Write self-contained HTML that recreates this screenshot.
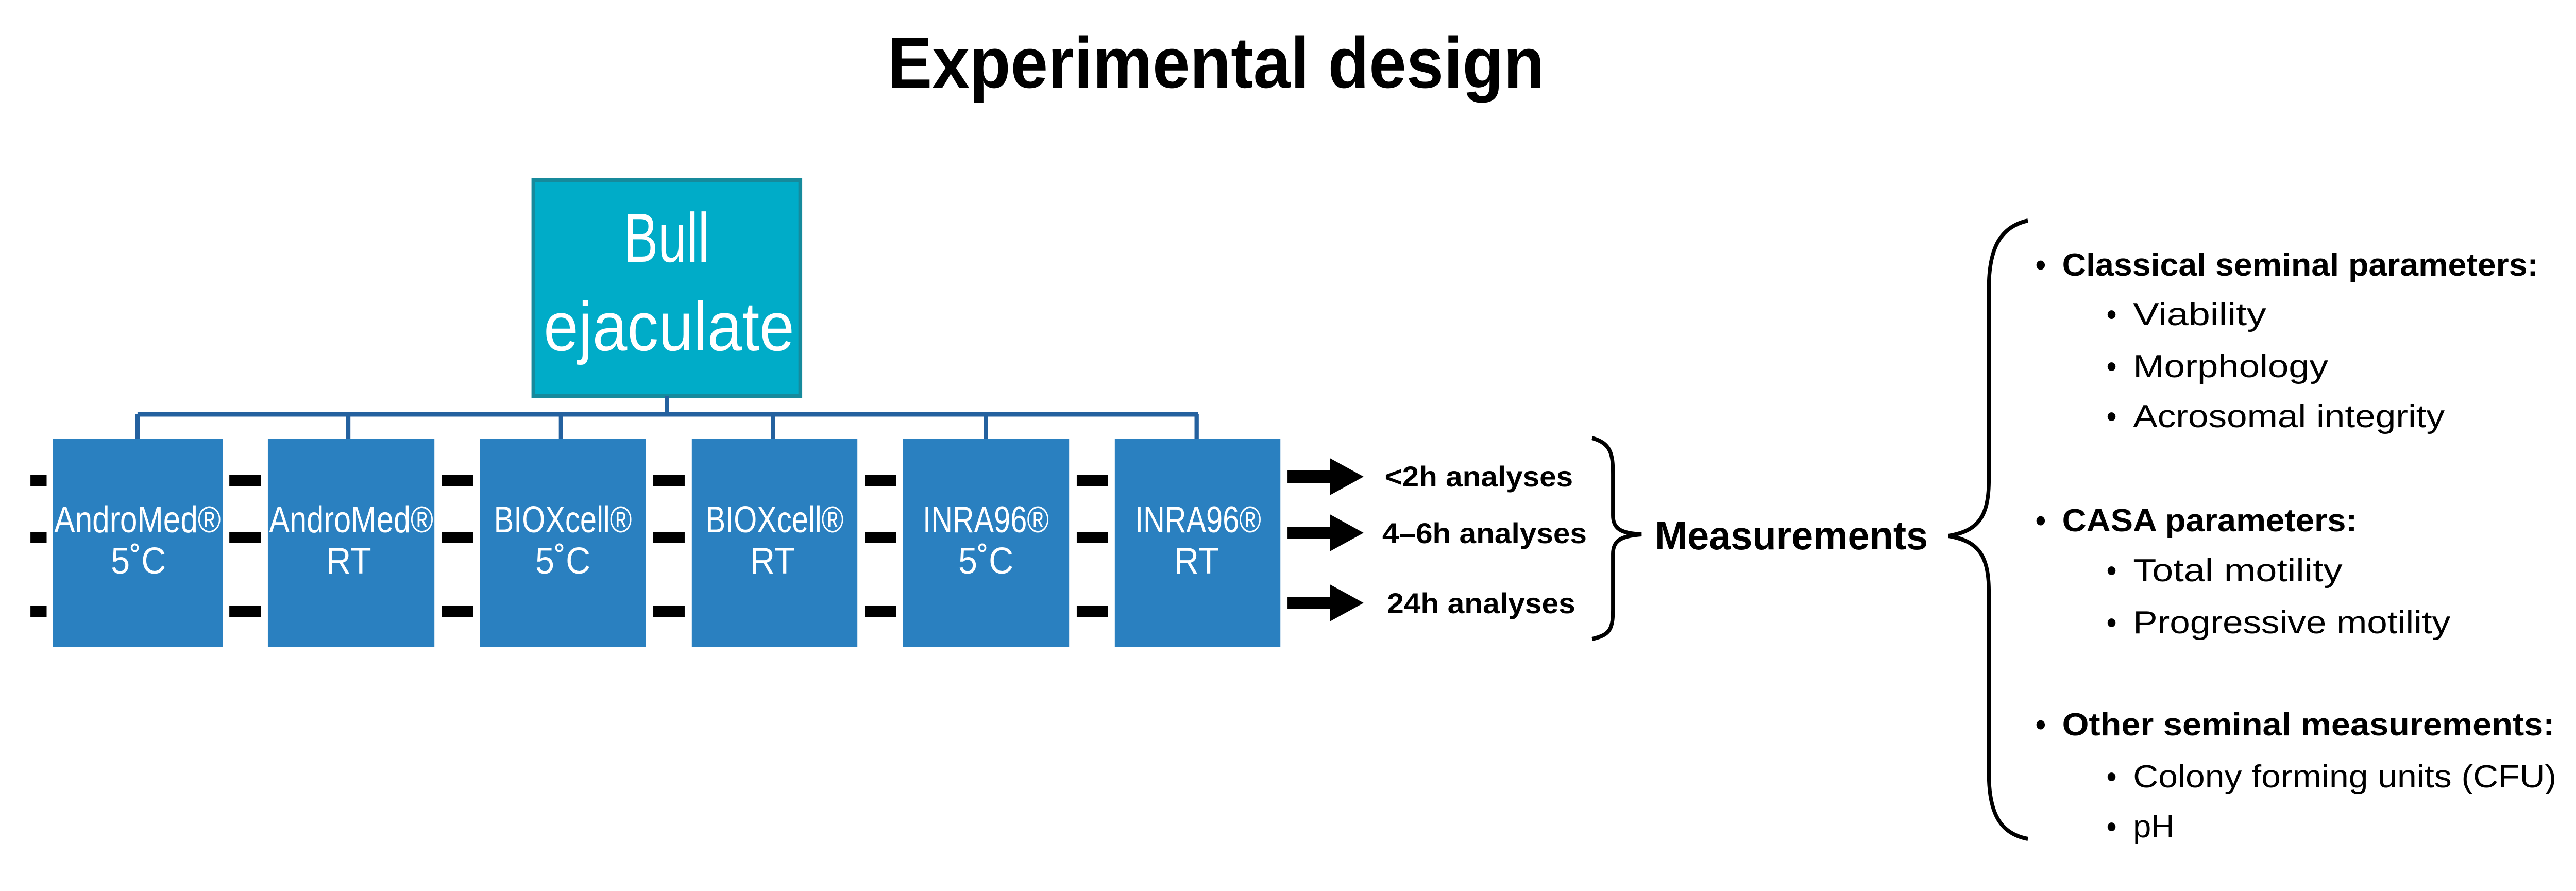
<!DOCTYPE html>
<html><head><meta charset="utf-8"><style>html,body{margin:0;padding:0;background:#fff;width:100%;height:100%;overflow:hidden}svg{display:block;position:fixed;left:0;top:0;width:100vw;height:100vh}</style></head>
<body>
<svg viewBox="0 0 5414 1729" preserveAspectRatio="none" xmlns="http://www.w3.org/2000/svg" font-family="Liberation Sans, sans-serif">
<rect width="5414" height="1729" fill="#fff"/>
<text x="1865" y="170" font-size="140" font-weight="bold" textLength="1381" lengthAdjust="spacingAndGlyphs">Experimental design</text>

<rect x="1121" y="350" width="561" height="419" fill="#00ACC8" stroke="#168a9c" stroke-width="8"/>
<text x="1401" y="508" font-size="135" fill="#fff" text-anchor="middle" textLength="180" lengthAdjust="spacingAndGlyphs">Bull</text>
<text x="1406" y="680" font-size="135" fill="#fff" text-anchor="middle" textLength="527" lengthAdjust="spacingAndGlyphs">ejaculate</text>

<g stroke="#24619f" stroke-width="9" fill="none">
<line x1="1402" y1="769" x2="1402" y2="804"/>
<line x1="289" y1="804" x2="2518" y2="804"/>
<line x1="289" y1="804" x2="289" y2="852"/>
<line x1="732" y1="804" x2="732" y2="852"/>
<line x1="1179" y1="804" x2="1179" y2="852"/>
<line x1="1625" y1="804" x2="1625" y2="852"/>
<line x1="2072" y1="804" x2="2072" y2="852"/>
<line x1="2515" y1="804" x2="2515" y2="852"/>
</g>

<g fill="#2A80C0">
<rect x="111" y="852" width="357" height="403"/>
<rect x="563" y="852" width="350" height="403"/>
<rect x="1009" y="852" width="348" height="403"/>
<rect x="1454" y="852" width="348" height="403"/>
<rect x="1898" y="852" width="349" height="403"/>
<rect x="2343" y="852" width="348" height="403"/>
</g>
<g fill="#fff" font-size="72" text-anchor="middle">
<text x="289" y="1033" textLength="350" lengthAdjust="spacingAndGlyphs">AndroMed®</text>
<text x="291" y="1113">5˚C</text>
<text x="738" y="1033" textLength="345" lengthAdjust="spacingAndGlyphs">AndroMed®</text>
<text x="733" y="1113">RT</text>
<text x="1183" y="1033" textLength="290" lengthAdjust="spacingAndGlyphs">BIOXcell®</text>
<text x="1183" y="1113">5˚C</text>
<text x="1628" y="1033" textLength="290" lengthAdjust="spacingAndGlyphs">BIOXcell®</text>
<text x="1624" y="1113">RT</text>
<text x="2072" y="1033" textLength="265" lengthAdjust="spacingAndGlyphs">INRA96®</text>
<text x="2072" y="1113">5˚C</text>
<text x="2518" y="1033" textLength="265" lengthAdjust="spacingAndGlyphs">INRA96®</text>
<text x="2515" y="1113">RT</text>
</g>

<g fill="#000">
<rect x="64" y="921" width="34" height="22"/><rect x="64" y="1032" width="34" height="22"/><rect x="64" y="1176" width="34" height="22"/>
<rect x="482" y="921" width="66" height="22"/><rect x="482" y="1032" width="66" height="22"/><rect x="482" y="1176" width="66" height="22"/>
<rect x="928" y="921" width="66" height="22"/><rect x="928" y="1032" width="66" height="22"/><rect x="928" y="1176" width="66" height="22"/>
<rect x="1373" y="921" width="66" height="22"/><rect x="1373" y="1032" width="66" height="22"/><rect x="1373" y="1176" width="66" height="22"/>
<rect x="1818" y="921" width="66" height="22"/><rect x="1818" y="1032" width="66" height="22"/><rect x="1818" y="1176" width="66" height="22"/>
<rect x="2263" y="921" width="66" height="22"/><rect x="2263" y="1032" width="66" height="22"/><rect x="2263" y="1176" width="66" height="22"/>
<polygon points="2706,913 2795,913 2795,889 2866,925 2795,961 2795,937 2706,937"/>
<polygon points="2706,1022 2795,1022 2795,998 2866,1034 2795,1070 2795,1046 2706,1046"/>
<polygon points="2706,1158 2795,1158 2795,1134 2866,1170 2795,1206 2795,1182 2706,1182"/>
</g>
<g font-size="56" font-weight="bold">
<text x="2910" y="944" textLength="396" lengthAdjust="spacingAndGlyphs">&lt;2h analyses</text>
<text x="2905" y="1054" textLength="430" lengthAdjust="spacingAndGlyphs">4–6h analyses</text>
<text x="2915" y="1190" textLength="396" lengthAdjust="spacingAndGlyphs">24h analyses</text>
</g>
<path d="M3346,850 C3385,860 3390,880 3390,920 L3390,1000 C3390,1025 3405,1035 3450,1037 C3405,1040 3390,1050 3390,1075 L3390,1180 C3390,1220 3385,1232 3346,1240" fill="none" stroke="#000" stroke-width="8"/>
<text x="3478" y="1066" font-size="78" font-weight="bold" textLength="574" lengthAdjust="spacingAndGlyphs">Measurements</text>

<path d="M4262,428 C4205,440 4180,480 4180,560 L4180,930 C4180,1000 4160,1030 4095,1040 C4160,1050 4180,1080 4180,1150 L4180,1500 C4180,1580 4205,1618 4262,1628" fill="none" stroke="#000" stroke-width="8"/>

<g font-size="62">
<g font-weight="bold">
<text x="4278" y="535">•</text><text x="4334" y="535" textLength="1001" lengthAdjust="spacingAndGlyphs">Classical  seminal parameters:</text>
<text x="4278" y="1031">•</text><text x="4334" y="1031" textLength="620" lengthAdjust="spacingAndGlyphs">CASA parameters:</text>
<text x="4278" y="1427">•</text><text x="4334" y="1427" textLength="1035" lengthAdjust="spacingAndGlyphs">Other seminal measurements:</text>
</g>
<text x="4427" y="631">•</text><text x="4483" y="631" textLength="280" lengthAdjust="spacingAndGlyphs">Viability</text>
<text x="4427" y="732">•</text><text x="4483" y="732" textLength="410" lengthAdjust="spacingAndGlyphs">Morphology</text>
<text x="4427" y="829">•</text><text x="4483" y="829" textLength="655" lengthAdjust="spacingAndGlyphs">Acrosomal integrity</text>
<text x="4427" y="1128">•</text><text x="4483" y="1128" textLength="440" lengthAdjust="spacingAndGlyphs">Total motility</text>
<text x="4427" y="1229">•</text><text x="4483" y="1229" textLength="667" lengthAdjust="spacingAndGlyphs">Progressive motility</text>
<text x="4427" y="1528">•</text><text x="4483" y="1528" textLength="890" lengthAdjust="spacingAndGlyphs">Colony forming units (CFU)</text>
<text x="4427" y="1625">•</text><text x="4483" y="1625" textLength="87" lengthAdjust="spacingAndGlyphs">pH</text>
</g>
</svg>
</body></html>
